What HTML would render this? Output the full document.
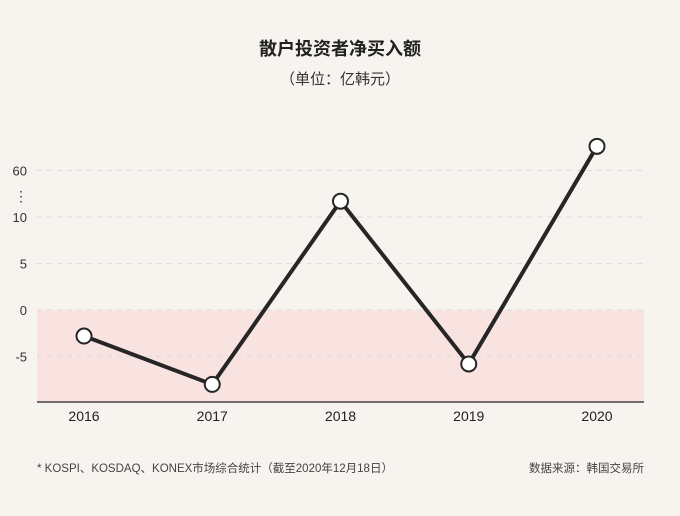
<!DOCTYPE html>
<html><head><meta charset="utf-8"><style>
body{margin:0;background:#f7f4f0;font-family:"Liberation Sans","Noto Sans CJK SC",sans-serif;}
svg{display:block}
</style></head><body>
<svg id="c" width="680" height="516" font-family="Liberation Sans, Noto Sans CJK SC, sans-serif">
<rect width="680" height="516" fill="#f7f4f0"/>
<text x="340" y="55" text-anchor="middle" font-size="18" font-weight="bold" fill="#222">散户投资者净买入额</text>
<text x="340" y="84" text-anchor="middle" font-size="15" fill="#333">（单位：亿韩元）</text>
<g id="plot"></g>
<text x="37" y="472" font-size="11.5" fill="#444">* KOSPI、KOSDAQ、KONEX市场综合统计（截至2020年12月18日）</text>
<text x="644" y="472" text-anchor="end" font-size="11.5" fill="#444">数据来源：韩国交易所</text>
</svg>
<script>
const categories=["2016","2017","2018","2019","2020"];
const values=[-2.8,-8,11.7,-5.8,62.6];
const tickValues=[-5,0,5,10,60];
const tickLabels=["-5","0","5","10","60"];
const NS="http://www.w3.org/2000/svg";
const g=document.getElementById("plot");
const x0=37,x1=644,yBase=402;
function xs(i){return 84+i*128.25;}
function ys(v){const u=v>=35?v-45:v;return 310-u*9.3;}
function mk(t,a,p){const e=document.createElementNS(NS,t);for(const k in a)e.setAttribute(k,a[k]);(p||g).appendChild(e);return e;}
const neg=mk("rect",{x:x0,y:ys(0),width:x1-x0,height:yBase-ys(0),fill:"#f9e3e1"});


tickValues.forEach((v,i)=>{
 const y=ys(v);
 const l=mk("line",{x1:x0,x2:x1,y1:y,y2:y,stroke:"#ddd",'stroke-dasharray':"5,5"});
 
 
 const t=mk("text",{x:27,y:y+5,'text-anchor':"end",'font-size':"13",fill:"#333"});
 t.textContent=tickLabels[i];
 
 
});
const br=mk("text",{x:21,y:(ys(10)+ys(60))/2+7,'text-anchor':"middle",'font-size':"14",fill:"#333"});
br.textContent="⋮";


const ax=mk("line",{x1:x0,x2:x1,y1:yBase,y2:yBase,stroke:"#222",'stroke-width':"1.2"});


categories.forEach((c,i)=>{
 const t=mk("text",{x:xs(i),y:421,'text-anchor':"middle",'font-size':"14",fill:"#222"});
 t.textContent=c;
 
 
});
const pl=mk("polyline",{points:values.map((v,i)=>xs(i)+","+ys(v)).join(" "),fill:"none",stroke:"#262626",'stroke-width':"4",'stroke-linejoin':"round"});


values.forEach((v,i)=>{
 const p=mk("circle",{cx:xs(i),cy:ys(v),r:7.5,fill:"#fff",stroke:"#262626",'stroke-width':"2"});
 
 
});
</script>
</body></html>
